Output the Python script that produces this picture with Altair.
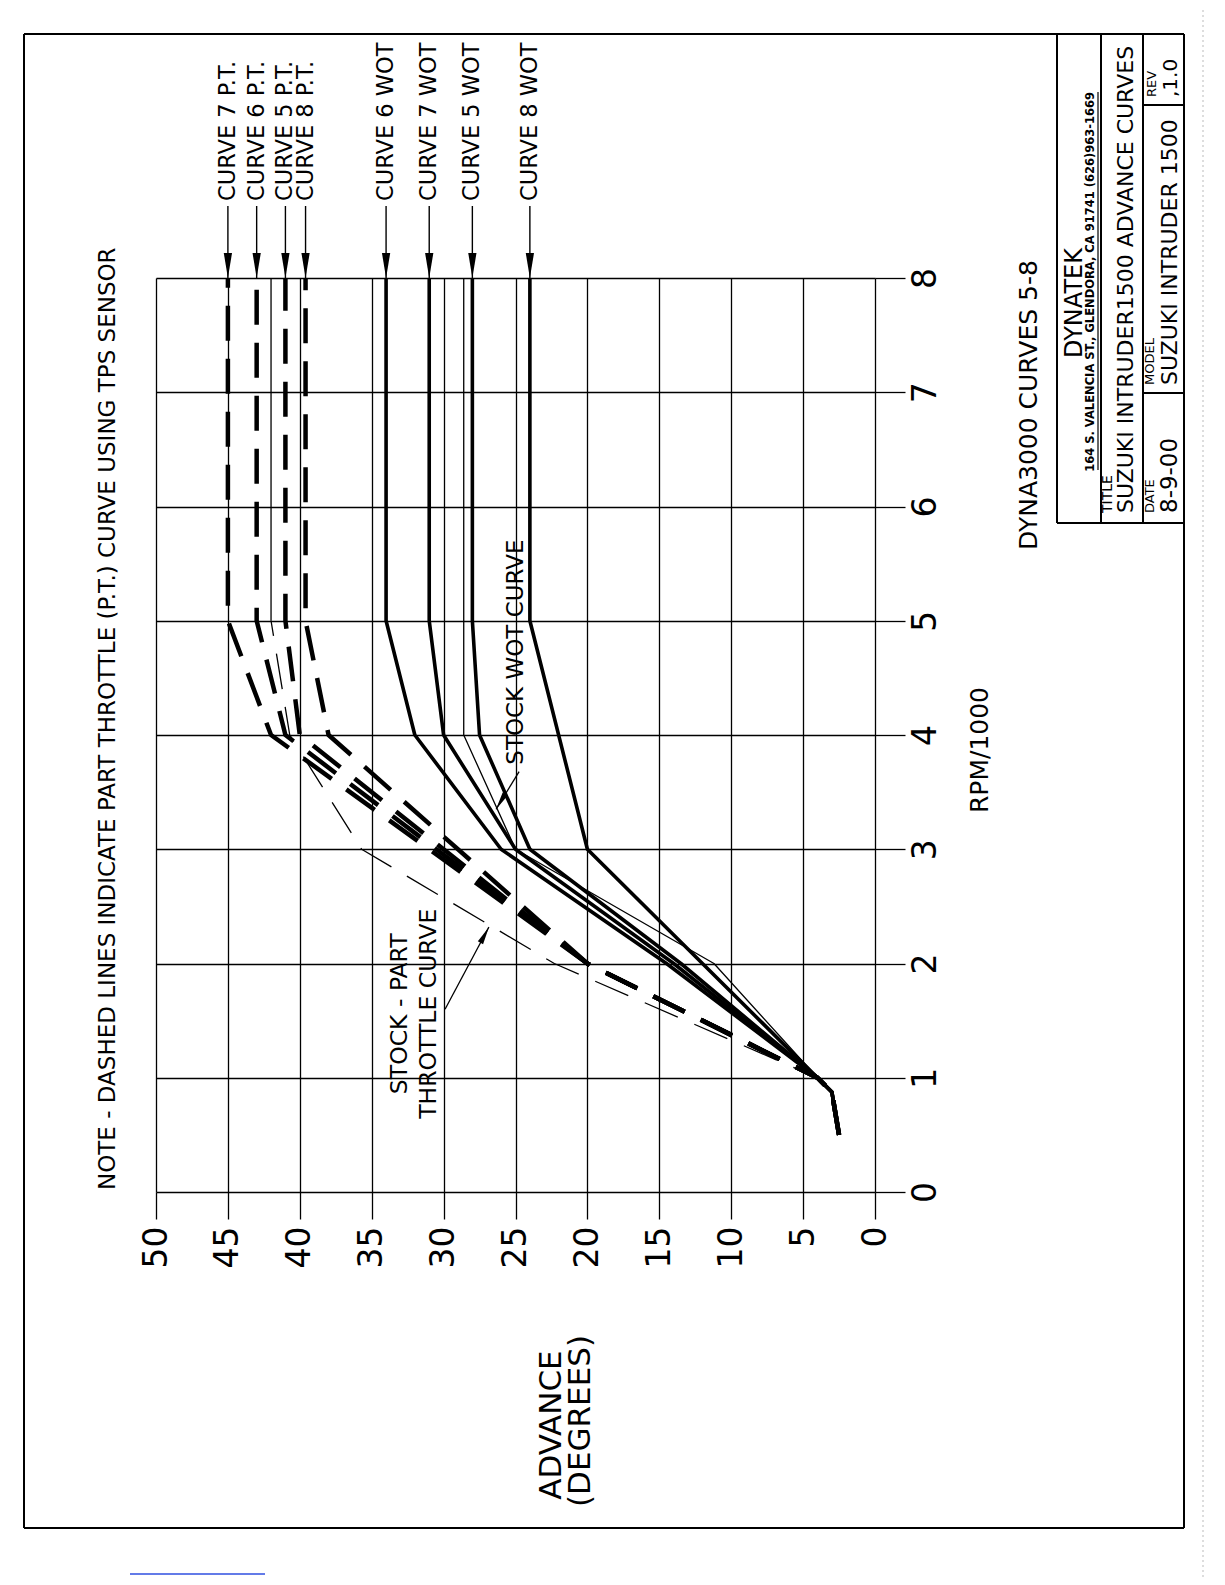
import altair as alt
import pandas as pd

FONT = "DejaVu Sans"

# ---------------- data (RPM/1000 vs advance degrees) ----------------
RPM_TICKS = [0, 1, 2, 3, 4, 5, 6, 7, 8]
ADV_TICKS = [0, 5, 10, 15, 20, 25, 30, 35, 40, 45, 50]

BASE_RPM = [0.5, 0.875, 1.0]
BASE_ADV = [2.5, 3.0, 4.0]

CURVE6_WOT_RPM = [2, 3, 4, 5, 8]
CURVE6_WOT_ADV = [14.5, 26, 32, 34, 34]
CURVE7_WOT_RPM = [2, 3, 4, 5, 8]
CURVE7_WOT_ADV = [14, 25, 30, 31, 31]
CURVE5_WOT_RPM = [2, 3, 4, 5, 8]
CURVE5_WOT_ADV = [13.5, 24, 27.5, 28, 28]
CURVE8_WOT_RPM = [2, 3, 5, 8]
CURVE8_WOT_ADV = [12, 20, 24, 24]
STOCK_WOT_RPM = [2, 3, 4, 8]
STOCK_WOT_ADV = [11.2, 25, 28.6, 28.6]

CURVE7_PT_RPM = [2, 4, 5, 8]
CURVE7_PT_ADV = [20, 42, 45, 45]
CURVE6_PT_RPM = [2, 4, 5, 8]
CURVE6_PT_ADV = [20, 41, 43, 43]
CURVE5_PT_RPM = [2, 4, 5, 8]
CURVE5_PT_ADV = [20, 40, 41, 41]
CURVE8_PT_RPM = [2, 4, 5, 8]
CURVE8_PT_ADV = [20, 38, 39.6, 39.6]
STOCK_PT_RPM = [2, 3, 4, 5]
STOCK_PT_ADV = [22.3, 35.7, 40.7, 42]
STOCK_PT_HI_RPM = [5, 8]
STOCK_PT_HI_ADV = [42, 42]

LABEL_ORDER = ["CURVE 7 P.T.", "CURVE 6 P.T.", "CURVE 5 P.T.", "CURVE 8 P.T.",
               "CURVE 6 WOT", "CURVE 7 WOT", "CURVE 5 WOT", "CURVE 8 WOT"]

NOTE = "NOTE - DASHED LINES INDICATE PART THROTTLE (P.T.) CURVE USING TPS SENSOR"


def curve_df(name, rpm, adv, base=True):
    r = (BASE_RPM + list(rpm)) if base else list(rpm)
    a = (BASE_ADV + list(adv)) if base else list(adv)
    return pd.DataFrame({"series": name, "rpm": r, "advance": a, "k": list(range(len(r)))})


CURVES = {
    "CURVE 6 WOT": curve_df("CURVE 6 WOT", CURVE6_WOT_RPM, CURVE6_WOT_ADV),
    "CURVE 7 WOT": curve_df("CURVE 7 WOT", CURVE7_WOT_RPM, CURVE7_WOT_ADV),
    "CURVE 5 WOT": curve_df("CURVE 5 WOT", CURVE5_WOT_RPM, CURVE5_WOT_ADV),
    "CURVE 8 WOT": curve_df("CURVE 8 WOT", CURVE8_WOT_RPM, CURVE8_WOT_ADV),
    "STOCK WOT": curve_df("STOCK WOT", STOCK_WOT_RPM, STOCK_WOT_ADV),
    "CURVE 7 P.T.": curve_df("CURVE 7 P.T.", CURVE7_PT_RPM, CURVE7_PT_ADV),
    "CURVE 6 P.T.": curve_df("CURVE 6 P.T.", CURVE6_PT_RPM, CURVE6_PT_ADV),
    "CURVE 5 P.T.": curve_df("CURVE 5 P.T.", CURVE5_PT_RPM, CURVE5_PT_ADV),
    "CURVE 8 P.T.": curve_df("CURVE 8 P.T.", CURVE8_PT_RPM, CURVE8_PT_ADV),
    "STOCK P.T.": curve_df("STOCK P.T.", STOCK_PT_RPM, STOCK_PT_ADV),
    "STOCK P.T. HI": curve_df("STOCK P.T. HI", STOCK_PT_HI_RPM, STOCK_PT_HI_ADV, base=False),
}

THICK_SOLID = ["CURVE 6 WOT", "CURVE 7 WOT", "CURVE 5 WOT", "CURVE 8 WOT"]
THICK_DASHED = ["CURVE 7 P.T.", "CURVE 6 P.T.", "CURVE 5 P.T.", "CURVE 8 P.T."]
THIN_SOLID = ["STOCK WOT", "STOCK P.T. HI"]
THIN_DASHED = ["STOCK P.T."]

# ---------------- layout ----------------
X0, Y0 = 156, 278          # page position of plot-area origin
W, H = 719, 914            # plot area
PX_RPM = H / 8.0           # pixels per 1000 rpm

xs = alt.Scale(domain=[0, 50], reverse=True, nice=False, zero=False)
ys = alt.Scale(domain=[0, 8], nice=False, zero=False)

common_axis = dict(title=None, grid=True, gridColor="black", gridWidth=1.3, gridOpacity=1,
                   domain=False, ticks=True, tickColor="black", tickWidth=1.3,
                   labelFont=FONT, labelFontSize=33, labelColor="black",
                   labelFlush=False, labelOverlap=False, labelBound=False, format="d")
x_axis = alt.Axis(values=ADV_TICKS, orient="bottom", tickSize=27, labelAngle=270,
                  labelAlign="right", labelBaseline="middle", labelPadding=7, **common_axis)
y_axis = alt.Axis(values=RPM_TICKS, orient="right", tickSize=30, labelAngle=270,
                  labelAlign="center", labelBaseline="top", labelPadding=4, **common_axis)


def X(field="advance"):
    return alt.X(f"{field}:Q", scale=xs, axis=x_axis)


def Y(field="rpm"):
    return alt.Y(f"{field}:Q", scale=ys, axis=y_axis)


def lines(names, width, dash=None):
    df = pd.concat([CURVES[n] for n in names], ignore_index=True)
    kw = dict(color="black", strokeWidth=width, strokeJoin="round")
    if dash:
        kw["strokeDash"] = dash
    return alt.Chart(df).mark_line(**kw).encode(x=X(), y=Y(), detail="series:N", order="k:Q")


layers = []
layers.append(lines(THIN_SOLID, 1.3))
layers.append(lines(THIN_DASHED, 1.3, [36, 18]))
layers.append(lines(THICK_SOLID, 3.6))
layers.append(lines(THICK_DASHED, 4.5, [35, 18]))

# top curve labels with arrows
lab = pd.DataFrame({"series": LABEL_ORDER,
                    "advance": [CURVES[n]["advance"].iloc[-1] for n in LABEL_ORDER]})
lab["rpm"] = 8 + 77 / PX_RPM
lab["r_top"] = 8 + 72 / PX_RPM
lab["r_bot"] = 8.0
lab["r_head"] = 8 + 12.5 / PX_RPM
ARROW = "M -0.33 -1 L 0.33 -1 L 0 1 Z"

layers.append(alt.Chart(lab).mark_text(angle=270, align="left", baseline="middle", font=FONT,
                                       fontSize=22.5, color="black")
              .encode(x=X(), y=Y(), text="series:N"))
layers.append(alt.Chart(lab).mark_rule(color="black", strokeWidth=1.4)
              .encode(x=X(), y=Y("r_top"), y2=alt.Y2("r_bot")))
layers.append(alt.Chart(lab).mark_point(shape=ARROW, size=625, filled=True, color="black",
                                        opacity=1, strokeWidth=0)
              .encode(x=X(), y=Y("r_head")))

# stock curve annotations (data coordinates)
ann_txt = pd.DataFrame({"t": ["STOCK WOT CURVE"], "advance": [25.0], "rpm": [3.74]})
layers.append(alt.Chart(ann_txt).mark_text(angle=270, align="left", baseline="middle", font=FONT,
                                           fontSize=23, color="black")
              .encode(x=X(), y=Y(), text="t:N"))
ann_pt = pd.DataFrame({"t": ["STOCK - PART", "THROTTLE CURVE"], "advance": [33.0, 31.0],
                       "rpm": [1.56, 1.56]})
layers.append(alt.Chart(ann_pt).mark_text(angle=270, align="center", baseline="middle", font=FONT,
                                          fontSize=23.5, color="black")
              .encode(x=X(), y=Y(), text="t:N"))

leaders = pd.DataFrame({"advance": [24.75, 29.9], "rpm": [3.68, 1.60],
                        "a2": [26.35, 26.85], "r2": [3.35, 2.32]})
layers.append(alt.Chart(leaders).mark_rule(color="black", strokeWidth=1.3)
              .encode(x=X(), y=Y(), x2=alt.X2("a2"), y2=alt.Y2("r2")))
head1 = pd.DataFrame({"advance": [26.04], "rpm": [3.416]})
head2 = pd.DataFrame({"advance": [27.14], "rpm": [2.251]})
layers.append(alt.Chart(head1).mark_point(shape=ARROW, size=324, angle=31.2, filled=True,
                                          color="black", opacity=1, strokeWidth=0)
              .encode(x=X(), y=Y()))
layers.append(alt.Chart(head2).mark_point(shape=ARROW, size=324, angle=208.4, filled=True,
                                          color="black", opacity=1, strokeWidth=0)
              .encode(x=X(), y=Y()))

# ---------------- page decorations (drawing frame, titles, title block) ----------------
ONE = alt.Data(values=[{}])


def page_rule(x1, y1, x2, y2, w=2.0, color="black", dash=None):
    kw = dict(strokeWidth=w, color=color)
    if dash:
        kw["strokeDash"] = dash
    return alt.Chart(ONE).mark_rule(**kw).encode(
        x=alt.value(x1 - X0), y=alt.value(y1 - Y0), x2=alt.value(x2 - X0), y2=alt.value(y2 - Y0))


def page_text(txt, px, py, size, align="left", weight="normal"):
    return alt.Chart(ONE).mark_text(text=txt, angle=270, align=align, baseline="middle", font=FONT,
                                    fontSize=size, fontWeight=weight, color="black").encode(
        x=alt.value(px - X0), y=alt.value(py - Y0))


FL, FT, FR, FB = 24, 34, 1184, 1528
layers += [
    page_rule(FL, FT, FR, FT), page_rule(FL, FB, FR, FB),
    page_rule(FL, FT, FL, FB), page_rule(FR, FT, FR, FB),
    # title block
    page_rule(1057, FT, 1057, 523), page_rule(1057, 523, FR, 523),
    page_rule(1101, FT, 1101, 523), page_rule(1143, FT, 1143, 523),
    page_rule(1143, 393, FR, 393), page_rule(1143, 105, FR, 105),
    # address underline
    page_rule(1098, 92, 1098, 470, w=1.2),
    # scan artefacts
    page_rule(1203, 0, 1203, 1577, w=1, color="#bbbbbb", dash=[2, 3]),
    page_rule(130, 1574, 265, 1574, w=1.5, color="#2f4fe0"),
]

layers += [
    page_text(NOTE, 108, 1190, 23),
    page_text("RPM/1000", 980, 750, 25, align="center"),
    page_text("ADVANCE", 552, 1425, 31, align="center"),
    page_text("(DEGREES)", 581, 1421, 31, align="center"),
    page_text("DYNA3000 CURVES 5-8", 1029, 405, 25, align="center"),
    page_text("DYNATEK", 1075, 303, 24, align="center"),
    page_text("164 S. VALENCIA ST., GLENDORA, CA 91741   (626)963-1669", 1091, 92, 11.5,
              align="right", weight="bold"),
    page_text("TITLE", 1108, 513, 14),
    page_text("SUZUKI INTRUDER1500 ADVANCE CURVES", 1126, 513, 22),
    page_text("DATE", 1150, 513, 13),
    page_text("8-9-00", 1170, 513, 23),
    page_text("MODEL", 1150, 385, 13),
    page_text("SUZUKI INTRUDER 1500", 1170, 385, 22),
    page_text("REV", 1152, 97, 13),
    page_text(",1.0", 1171, 97, 20),
]

chart = alt.layer(*layers).properties(
    width=W, height=H,
    padding={"left": X0 - 8, "top": Y0 - 8, "right": 331, "bottom": 385},
    autosize=alt.AutoSizeParams(type="none"),
    background="white",
).configure_view(strokeWidth=0)

chart.save("out.html", embed_options={"renderer": "svg", "actions": False})
